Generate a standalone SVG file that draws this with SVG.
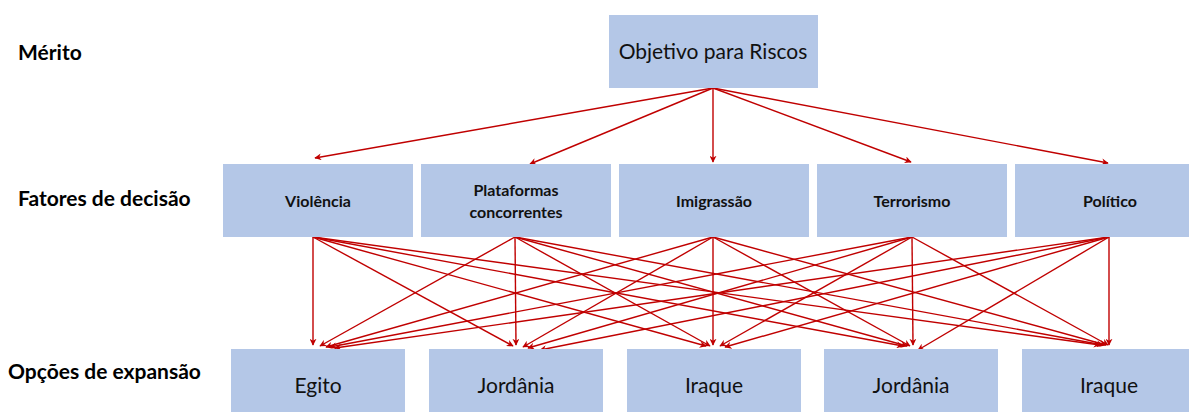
<svg xmlns="http://www.w3.org/2000/svg" width="1189" height="412" viewBox="0 0 1189 412">
<defs>
<style>
.box{fill:#b4c7e7;}
.lbl{font-family:Lato,"Open Sans","Liberation Sans",sans-serif;font-weight:bold;font-size:21px;fill:#000;}
.t1{font-family:Lato,"Open Sans","Liberation Sans",sans-serif;font-size:21px;fill:#111;text-anchor:middle;}
.t2{font-family:Lato,"Open Sans","Liberation Sans",sans-serif;font-weight:bold;font-size:16px;fill:#111;text-anchor:middle;}
.t3{font-family:Lato,"Open Sans","Liberation Sans",sans-serif;font-size:21px;fill:#111;text-anchor:middle;}
.c{stroke:#c00000;stroke-width:1.4;fill:none;marker-end:url(#ah);}
</style>
<marker id="ah" viewBox="0 0 10 10" refX="9" refY="5" markerWidth="7" markerHeight="7" markerUnits="userSpaceOnUse" orient="auto">
<path d="M0,0 L10,5 L0,10 L3,5 Z" fill="#c00000"/>
</marker>
</defs>
<rect width="1189" height="412" fill="#fff"/>
<g id="labels">
<text class="lbl" x="18" y="60">Mérito</text>
<text class="lbl" x="18" y="206">Fatores de decisão</text>
<text class="lbl" x="8" y="379">Opções de expansão</text>
</g>
<g id="connectors">
<line class="c" x1="713" y1="88" x2="315" y2="158"/>
<line class="c" x1="713" y1="88" x2="530" y2="164"/>
<line class="c" x1="713" y1="88" x2="713" y2="162"/>
<line class="c" x1="713" y1="88" x2="911" y2="162"/>
<line class="c" x1="713" y1="88" x2="1108" y2="163"/>
<line class="c" x1="313" y1="237" x2="313" y2="345"/>
<line class="c" x1="313" y1="237" x2="513" y2="346"/>
<line class="c" x1="313" y1="237" x2="706" y2="346"/>
<line class="c" x1="313" y1="237" x2="903" y2="346"/>
<line class="c" x1="313" y1="237" x2="1100" y2="345"/>
<line class="c" x1="515" y1="237" x2="320" y2="346"/>
<line class="c" x1="515" y1="237" x2="516" y2="345"/>
<line class="c" x1="515" y1="237" x2="710" y2="346"/>
<line class="c" x1="515" y1="237" x2="907" y2="346"/>
<line class="c" x1="515" y1="237" x2="1103" y2="345"/>
<line class="c" x1="713" y1="237" x2="326" y2="347"/>
<line class="c" x1="713" y1="237" x2="523" y2="347"/>
<line class="c" x1="713" y1="237" x2="713" y2="345"/>
<line class="c" x1="713" y1="237" x2="910" y2="346"/>
<line class="c" x1="713" y1="237" x2="1106" y2="345"/>
<line class="c" x1="912" y1="237" x2="330" y2="347"/>
<line class="c" x1="912" y1="237" x2="528" y2="348"/>
<line class="c" x1="912" y1="237" x2="720" y2="346"/>
<line class="c" x1="912" y1="237" x2="913" y2="345"/>
<line class="c" x1="912" y1="237" x2="1108" y2="345"/>
<line class="c" x1="1109" y1="237" x2="335" y2="348"/>
<line class="c" x1="1109" y1="237" x2="540" y2="350"/>
<line class="c" x1="1109" y1="237" x2="725" y2="347"/>
<line class="c" x1="1109" y1="237" x2="918" y2="350"/>
<line class="c" x1="1109" y1="237" x2="1109" y2="345"/>
</g>
<g id="objetivo">
<rect class="box" x="609" y="15" width="209" height="73"/>
<text class="t1" x="713" y="59">Objetivo para Riscos</text>
</g>
<g id="violencia">
<rect class="box" x="223" y="164" width="190" height="73"/>
<text class="t2" x="318" y="207">Violência</text>
</g>
<g id="plataformas">
<rect class="box" x="421" y="164" width="190" height="73"/>
<text class="t2" x="516" y="196">Plataformas</text>
<text class="t2" x="516" y="218">concorrentes</text>
</g>
<g id="imigrassao">
<rect class="box" x="619" y="164" width="190" height="73"/>
<text class="t2" x="714" y="207">Imigrassão</text>
</g>
<g id="terrorismo">
<rect class="box" x="817" y="164" width="190" height="73"/>
<text class="t2" x="912" y="207">Terrorismo</text>
</g>
<g id="politico">
<rect class="box" x="1015" y="164" width="190" height="73"/>
<text class="t2" x="1110" y="207">Político</text>
</g>
<g id="egito">
<rect class="box" x="231" y="349" width="174" height="70"/>
<text class="t3" x="318" y="393">Egito</text>
</g>
<g id="jordania1">
<rect class="box" x="429" y="349" width="174" height="70"/>
<text class="t3" x="516" y="393">Jordânia</text>
</g>
<g id="iraque1">
<rect class="box" x="627" y="349" width="174" height="70"/>
<text class="t3" x="714" y="393">Iraque</text>
</g>
<g id="jordania2">
<rect class="box" x="824" y="349" width="174" height="70"/>
<text class="t3" x="911" y="393">Jordânia</text>
</g>
<g id="iraque2">
<rect class="box" x="1022" y="349" width="174" height="70"/>
<text class="t3" x="1109" y="393">Iraque</text>
</g>
</svg>
